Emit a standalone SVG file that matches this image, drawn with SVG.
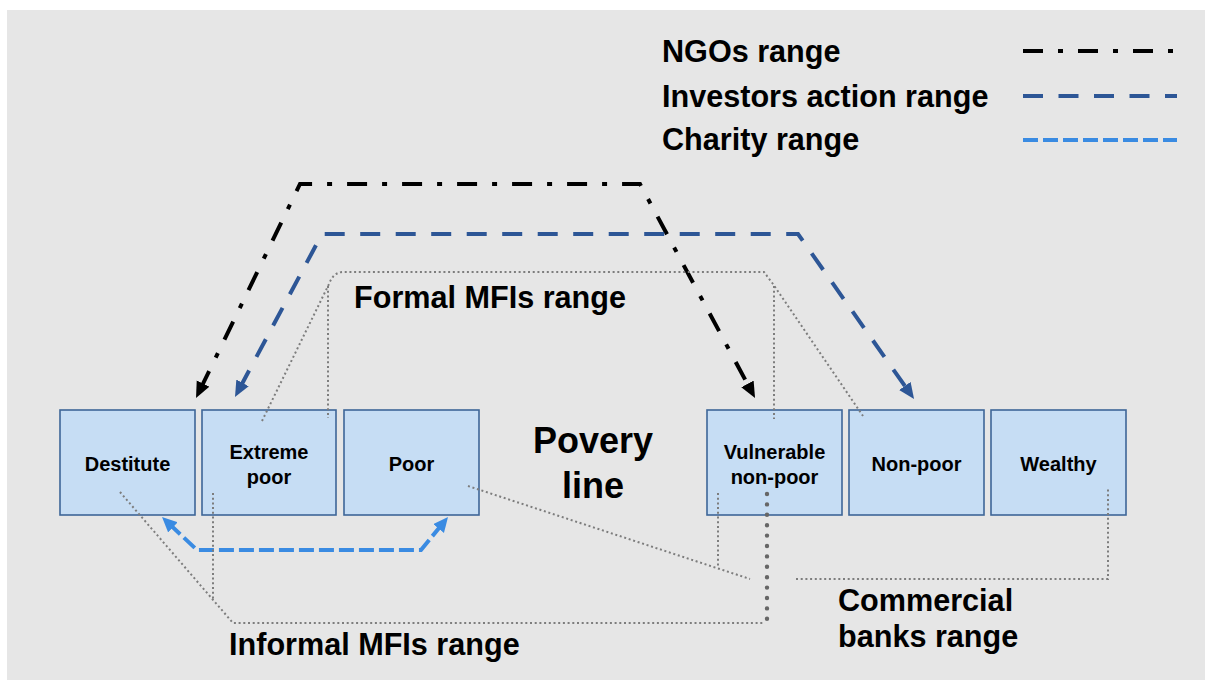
<svg xmlns="http://www.w3.org/2000/svg" width="1205" height="681" viewBox="0 0 1205 681">
<defs>
<style>
.box{fill:#c6ddf4;stroke:#3e6698;stroke-width:1.6}
.lbl{font-family:"Liberation Sans",Arial,sans-serif;font-weight:bold;font-size:20px;fill:#000;text-anchor:middle}
.big{font-family:"Liberation Sans",Arial,sans-serif;font-weight:bold;font-size:30.6px;fill:#000}
.ngo{fill:none;stroke:#000;stroke-width:4;stroke-dasharray:20 15 5 15}
.inv{fill:none;stroke:#2d5696;stroke-width:4;stroke-dasharray:20 15.5}
.cha{fill:none;stroke:#3a8be2;stroke-width:4;stroke-dasharray:15 5}
.dot{fill:none;stroke:#7d7d7d;stroke-width:2;stroke-dasharray:2 2.7}
.bigdot{fill:none;stroke:#666;stroke-width:4.4;stroke-linecap:round;stroke-dasharray:0 10.4}
</style>
<marker id="aK" markerUnits="userSpaceOnUse" markerWidth="18" markerHeight="16" refX="6" refY="7" orient="auto-start-reverse"><path d="M0,0 L16,7 L0,14 z" fill="#000"/></marker>
<marker id="aB" markerUnits="userSpaceOnUse" markerWidth="18" markerHeight="16" refX="6" refY="7" orient="auto-start-reverse"><path d="M0,0 L16,7 L0,14 z" fill="#2d5696"/></marker>
<marker id="aC" markerUnits="userSpaceOnUse" markerWidth="18" markerHeight="16" refX="5" refY="7" orient="auto-start-reverse"><path d="M0,0 L15,7 L0,14 z" fill="#3a8be2"/></marker>
</defs>
<rect x="7" y="10" width="1198" height="670" fill="#e6e6e6"/>

<g id="legend">
<text class="big" x="662" y="62">NGOs range</text>
<text class="big" x="662" y="107">Investors action range</text>
<text class="big" x="662" y="150">Charity range</text>
<line class="ngo" x1="1023" y1="51" x2="1177" y2="51"/>
<line class="inv" x1="1023" y1="96" x2="1177" y2="96"/>
<line class="cha" x1="1023" y1="140" x2="1177" y2="140"/>
</g>

<g id="destitute"><rect class="box" x="60" y="410" width="135" height="105"/><text class="lbl" x="127.5" y="471">Destitute</text></g>
<g id="extreme-poor"><rect class="box" x="202" y="410" width="134" height="105"/><text class="lbl" x="269" y="459">Extreme</text><text class="lbl" x="269" y="484">poor</text></g>
<g id="poor"><rect class="box" x="344" y="410" width="135" height="105"/><text class="lbl" x="411.5" y="471">Poor</text></g>
<g id="vulnerable"><rect class="box" x="707" y="410" width="135" height="105"/><text class="lbl" x="774.5" y="459">Vulnerable</text><text class="lbl" x="774.5" y="484">non-poor</text></g>
<g id="non-poor"><rect class="box" x="849" y="410" width="135" height="105"/><text class="lbl" x="916.5" y="471">Non-poor</text></g>
<g id="wealthy"><rect class="box" x="991" y="410" width="135" height="105"/><text class="lbl" x="1058.5" y="471">Wealthy</text></g>

<g id="poverty-line">
<text class="big" style="font-size:36px;text-anchor:middle" x="593" y="453">Povery</text>
<text class="big" style="font-size:36px;text-anchor:middle" x="593" y="498">line</text>
</g>

<g id="connectors">
<path class="ngo" d="M200.4,389 L300,184 L640,184 L750.3,389.2" marker-start="url(#aK)" marker-end="url(#aK)"/>
<path class="inv" d="M239.7,388.2 L322,234 L798,234 L908.3,390.8" marker-start="url(#aB)" marker-end="url(#aB)"/>
<path class="cha" d="M169.3,523.9 L197,550 L421,550 L441.7,524.7" marker-start="url(#aC)" marker-end="url(#aC)"/>
<path class="dot" d="M262,421 L329,284 Q333,273 342,272 L764,272 L773,284 L863,416"/>
<path class="dot" d="M328,286 L328,418"/>
<path class="dot" d="M774,286 L774,419"/>
<path class="dot" d="M120,492 L233,623 L765,623"/>
<path class="dot" d="M213,493 L213,600"/>
<path class="bigdot" d="M767,494 L767,620"/>
<path class="dot" d="M468,486 L750,579"/>
<path class="dot" d="M718,493 L718,568"/>
<path class="dot" d="M796,579 L1108,579 L1108,487"/>
</g>

<g id="range-labels">
<text class="big" x="354" y="308">Formal MFIs range</text>
<text class="big" x="229" y="655">Informal MFIs range</text>
<text class="big" x="838" y="611">Commercial</text>
<text class="big" x="838" y="647">banks range</text>
</g>
</svg>
